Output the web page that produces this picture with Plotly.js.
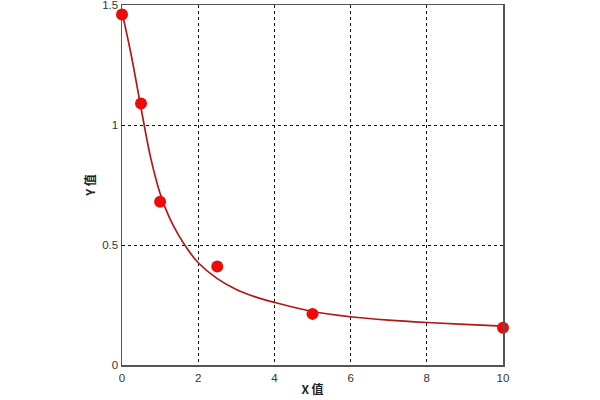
<!DOCTYPE html>
<html>
<head>
<meta charset="utf-8">
<script src="https://cdn.plot.ly/plotly-3.0.1.min.js"></script>
<style>html,body{margin:0;padding:0;background:#fff}#chart{width:600px;height:400px}</style>
</head>
<body>
<div id="chart"></div>
<script>
// Measured standard points
var pointX = [0, 0.5, 1, 2.5, 5, 10];
var pointY = [1.46, 1.09, 0.68, 0.41, 0.213, 0.155];

// Fitted curve
var curveX = [0, 0.25, 0.5, 0.75, 1, 1.25, 1.5, 1.75, 2, 2.5, 3, 3.5, 4, 5, 6, 7, 8, 9, 10];
var curveY = [1.47, 1.285, 1.07, 0.865, 0.715, 0.612, 0.537, 0.476, 0.426, 0.36, 0.315, 0.284, 0.261, 0.223, 0.201, 0.187, 0.177, 0.169, 0.162];

var xTicks = [0, 2, 4, 6, 8, 10];
var yTicks = [0, 0.5, 1, 1.5];
var yTickText = ['0', '0.5', '1', '1.5'];

var traces = [
  {
    x: curveX, y: curveY, type: 'scatter', mode: 'lines',
    line: {color: '#b41616', width: 1.7, shape: 'spline', smoothing: 1},
    hoverinfo: 'skip', cliponaxis: false
  },
  {
    x: pointX, y: pointY, type: 'scatter', mode: 'markers',
    marker: {color: '#ee0a0a', size: 12},
    cliponaxis: false
  }
];

var axisCommon = {
  showline: true, mirror: true, linecolor: '#555', linewidth: 1.5,
  showgrid: true, gridcolor: '#111', gridwidth: 1, griddash: 'dot',
  zeroline: false, ticks: '', ticklabeloverflow: 'allow',
  tickfont: {family: 'Liberation Sans, Arial, sans-serif', size: 11.5, color: '#333'}
};

var layout = {
  width: 600, height: 400,
  margin: {l: 122, r: 97, t: 5, b: 35},
  paper_bgcolor: '#fff', plot_bgcolor: '#fff',
  showlegend: false,
  xaxis: Object.assign({}, axisCommon, {
    range: [0, 10], tickvals: xTicks, ticklabelstandoff: 2,
    title: {text: 'X 值', standoff: 2,
      font: {family: 'Noto Sans CJK SC, sans-serif', size: 12, color: '#222', weight: 'bold'}}
  }),
  yaxis: Object.assign({}, axisCommon, {
    range: [0, 1.5], tickvals: yTicks, ticktext: yTickText,
    title: {text: 'Y 值', standoff: 4,
      font: {family: 'Noto Sans CJK SC, sans-serif', size: 12, color: '#222', weight: 'bold'}}
  })
};

Plotly.newPlot('chart', traces, layout, {staticPlot: true, displayModeBar: false});
</script>
</body>
</html>
